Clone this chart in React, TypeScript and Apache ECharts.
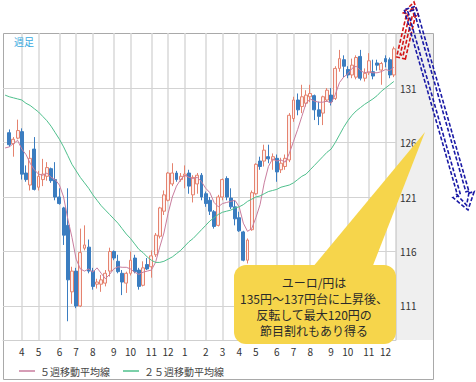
import React, { useEffect, useRef } from "react";
import * as echarts from "echarts";

// Weekly EUR/JPY candles (week starting Monday); first week is empty in the chart
const categories = [
  "2016/03/07","2016/03/14","2016/03/21","2016/03/28","2016/04/04","2016/04/11","2016/04/18","2016/04/25",
  "2016/05/02","2016/05/09","2016/05/16","2016/05/23","2016/05/30","2016/06/06","2016/06/13","2016/06/20",
  "2016/06/27","2016/07/04","2016/07/11","2016/07/18","2016/07/25","2016/08/01","2016/08/08","2016/08/15",
  "2016/08/22","2016/08/29","2016/09/05","2016/09/12","2016/09/19","2016/09/26","2016/10/03","2016/10/10",
  "2016/10/17","2016/10/24","2016/10/31","2016/11/07","2016/11/14","2016/11/21","2016/11/28","2016/12/05",
  "2016/12/12","2016/12/19","2016/12/26","2017/01/02","2017/01/09","2017/01/16","2017/01/23","2017/01/30",
  "2017/02/06","2017/02/13","2017/02/20","2017/02/27","2017/03/06","2017/03/13","2017/03/20","2017/03/27",
  "2017/04/03","2017/04/10","2017/04/17","2017/04/24","2017/05/01","2017/05/08","2017/05/15","2017/05/22",
  "2017/05/29","2017/06/05","2017/06/12","2017/06/19","2017/06/26","2017/07/03","2017/07/10","2017/07/17",
  "2017/07/24","2017/07/31","2017/08/07","2017/08/14","2017/08/21","2017/08/28","2017/09/04","2017/09/11",
  "2017/09/18","2017/09/25","2017/10/02","2017/10/09","2017/10/16","2017/10/23","2017/10/30","2017/11/06",
  "2017/11/13","2017/11/20","2017/11/27","2017/12/04","2017/12/11","2017/12/18"
];

const openP = [
  null, 126.9, 125.9, 126.4, 127.0, 123.2, 122.1, 125.4, 121.9, 122.6,
  122.9, 123.6, 122.6, 121.0, 120.0, 118.4, 112.3, 114.2, 111.0, 116.3,
  116.4, 114.2, 113.0, 113.0, 113.1, 114.2, 116.0, 115.1, 114.0, 113.1,
  114.0, 115.4, 114.3, 112.9, 114.8, 114.6, 115.7, 117.4, 119.7, 120.7,
  122.2, 123.2, 122.6, 122.95, 123.2, 121.2, 122.2, 123.0, 121.3, 120.7,
  119.65, 118.4, 121.0, 122.7, 120.9, 120.1, 119.1, 117.8, 115.2, 118.0,
  121.3, 124.3, 124.3, 124.7, 124.4, 124.55, 123.5, 123.8, 124.4, 128.2,
  129.9, 129.3, 129.6, 130.2, 130.3, 129.0, 128.7, 129.9, 130.35, 130.05,
  132.8, 133.6, 132.7, 132.2, 132.0, 133.9, 131.9, 132.4, 132.5, 133.3,
  132.65, 133.7, 133.6, 132.2
];
const closeP = [
  null, 125.8, 126.3, 127.1, 123.1, 122.6, 124.55, 121.7, 122.9, 123.1,
  123.7, 122.5, 121.0, 120.4, 117.5, 113.4, 114.2, 111.0, 115.9, 116.6,
  114.2, 112.8, 113.2, 113.4, 114.0, 116.0, 115.4, 114.15, 113.2, 114.0,
  115.2, 114.15, 112.8, 114.5, 114.4, 115.6, 117.5, 120.0, 121.2, 123.2,
  123.2, 122.6, 122.9, 123.1, 122.0, 122.8, 123.0, 121.0, 120.4, 119.7,
  118.3, 121.0, 122.6, 121.0, 120.1, 119.0, 117.9, 115.2, 117.05, 121.4,
  124.0, 123.8, 125.3, 124.5, 124.7, 123.3, 124.1, 124.55, 128.5, 129.9,
  129.0, 130.2, 130.35, 130.5, 129.0, 128.4, 130.2, 130.8, 129.75, 132.8,
  133.7, 133.0, 132.2, 133.1, 133.8, 131.9, 132.35, 133.5, 132.1, 133.1,
  133.25, 133.4, 132.2, 134.6
];
const lowP = [
  null, 125.6, 124.7, 126.3, 122.6, 122.4, 121.6, 121.6, 121.6, 122.0,
  122.5, 122.3, 120.7, 120.3, 116.6, 109.6, 111.2, 110.8, 110.9, 116.1,
  114.0, 112.5, 112.6, 112.3, 112.8, 113.7, 115.2, 114.0, 112.0, 112.2,
  113.8, 114.0, 112.5, 112.8, 114.3, 113.6, 115.5, 117.2, 119.35, 120.6,
  122.0, 122.4, 122.4, 121.8, 121.3, 120.5, 121.3, 120.7, 120.1, 119.35,
  118.1, 118.3, 120.7, 120.7, 119.9, 118.4, 117.8, 115.1, 114.9, 117.9,
  121.2, 123.5, 123.8, 124.1, 123.5, 122.4, 123.2, 123.5, 124.2, 127.9,
  128.5, 128.7, 129.3, 129.7, 128.06, 127.6, 127.6, 129.75, 129.4, 129.9,
  132.5, 132.0, 131.9, 131.9, 131.8, 131.7, 131.6, 132.2, 131.8, 132.6,
  131.3, 132.9, 131.9, 132.0
];
const highP = [
  null, 127.2, 126.5, 128.1, 127.3, 123.9, 125.3, 126.5, 123.4, 124.5,
  124.2, 123.7, 124.2, 121.8, 120.1, 121.8, 114.6, 114.5, 118.1, 118.4,
  117.1, 114.5, 113.5, 113.85, 114.3, 116.35, 116.1, 115.7, 114.3, 114.15,
  116.0, 115.7, 114.5, 115.1, 115.4, 116.1, 117.7, 120.1, 121.6, 123.3,
  124.1, 123.4, 123.2, 123.9, 123.5, 123.0, 123.2, 123.2, 121.5, 121.0,
  119.8, 121.2, 122.7, 122.9, 121.8, 120.7, 119.65, 117.9, 117.2, 121.6,
  124.1, 124.7, 125.8, 125.8, 125.0, 124.9, 124.6, 124.9, 128.7, 130.2,
  130.5, 131.3, 130.8, 131.3, 130.4, 129.75, 130.3, 131.0, 131.0, 133.0,
  134.5, 134.0, 133.0, 133.7, 134.0, 134.5, 132.8, 134.2, 133.6, 133.6,
  133.4, 134.0, 133.8, 134.8
];
const ma5 = [
  125.5, 125.6, 125.9, 126.2, 125.4, 124.9, 124.1, 123.5, 123.1, 123.0,
  123.2, 122.8, 122.6, 122.1, 121.0, 119.0, 117.3, 115.3, 114.4, 114.2,
  114.4, 114.1, 114.5, 114.0, 113.5, 113.9, 114.4, 114.6, 114.55, 114.55,
  114.4, 114.1, 113.9, 114.1, 114.2, 114.3, 115.0, 116.4, 117.7, 119.5,
  121.0, 122.0, 122.6, 123.0, 122.8, 122.7, 122.8, 122.4, 121.8, 121.4,
  120.5, 120.1, 120.4, 120.5, 120.6, 120.7, 120.1, 118.6, 117.85, 118.1,
  119.1, 120.3, 122.3, 123.8, 124.5, 124.3, 124.4, 124.2, 125.0, 126.1,
  127.2, 128.4, 129.6, 130.0, 129.8, 129.7, 129.7, 129.8, 129.6, 130.4,
  131.5, 132.0, 132.3, 132.8, 133.0, 132.6, 132.4, 132.5, 132.4, 132.4,
  132.5, 132.7, 132.6, 132.9
];
const ma25 = [
  130.35, 130.2, 130.1, 130.0, 129.9, 129.6, 129.4, 129.1, 128.8, 128.4,
  128.0, 127.5, 126.9, 126.3, 125.6, 124.8, 124.0, 123.4, 122.8, 122.3,
  121.8, 121.2, 120.7, 120.2, 119.8, 119.4, 119.0, 118.6, 118.1, 117.6,
  117.2, 116.7, 116.2, 115.9, 115.5, 115.2, 115.0, 115.0, 115.1, 115.3,
  115.5, 115.8, 116.1, 116.5, 116.9, 117.2, 117.6, 118.0, 118.4, 118.8,
  119.1, 119.4, 119.6, 119.7, 119.8, 120.0, 120.1, 120.3, 120.6, 120.8,
  121.0, 121.1, 121.3, 121.5, 121.6, 121.7, 121.9, 122.0, 122.1, 122.3,
  122.6, 122.9, 123.1, 123.5, 123.9, 124.3, 124.7, 125.1, 125.4, 126.0,
  126.7, 127.4, 128.0, 128.5, 128.9, 129.2, 129.5, 129.75, 130.0, 130.3,
  130.7, 131.0, 131.3, 131.6
];

const monthTickIndex = [4, 8, 13, 17, 21, 26, 30, 35, 39, 43, 48, 52, 56, 60, 65, 69, 73, 78, 82, 87, 91];
const monthTickLabels = ["4","5","6","7","8","9","10","11","12","1","2","3","4","5","6","7","8","9","10","11","12"];
const yTicks = [111, 116, 121, 126, 131];

const calloutLines = ["ユーロ/円は", "135円～137円台に上昇後、", "反転して最大120円の", "節目割れもあり得る"];
const legendNames = ["５週移動平均線", "２５週移動平均線"];

const FONT = "'Noto Sans CJK JP', 'Noto Sans', sans-serif";

function arrowPoints(sx: number, sy: number, ex: number, ey: number, w: number, hw: number, hl: number) {
  const dx = ex - sx, dy = ey - sy;
  const len = Math.hypot(dx, dy);
  const ux = dx / len, uy = dy / len;
  const nx = -uy, ny = ux;
  const bx = ex - ux * hl, by = ey - uy * hl;
  return [
    [sx + nx * w, sy + ny * w],
    [bx + nx * w, by + ny * w],
    [bx + nx * hw, by + ny * hw],
    [ex, ey],
    [bx - nx * hw, by - ny * hw],
    [bx - nx * w, by - ny * w],
    [sx - nx * w, sy - ny * w],
  ];
}

function doubleArrow(sx: number, sy: number, ex: number, ey: number, w: number, hw: number, hl: number, color: string) {
  const dx = ex - sx, dy = ey - sy;
  const len = Math.hypot(dx, dy);
  const ux = dx / len, uy = dy / len;
  const outer = arrowPoints(sx, sy, ex, ey, w, hw, hl);
  const inner = arrowPoints(sx + ux * 3, sy + uy * 3, ex - ux * 5, ey - uy * 5, w - 3, hw - 4.5, hl - 3);
  const style = { fill: "none", stroke: color, lineWidth: 1.6, lineDash: [4, 2] };
  return [
    { type: "polygon", z: 120, shape: { points: outer }, style },
    { type: "polygon", z: 120, shape: { points: inner }, style },
  ];
}

export default function App() {
  const ref = useRef<HTMLDivElement>(null);
  useEffect(() => {
    document.body.style.margin = "0";
    const chart = echarts.init(ref.current!, null, { renderer: "svg" });
    const candleData = categories.map((_, i) =>
      openP[i] == null ? "-" : [openP[i], closeP[i], lowP[i], highP[i]]
    );
    const tickMap: Record<number, string> = {};
    monthTickIndex.forEach((idx, k) => (tickMap[idx] = monthTickLabels[k]));
    const gridLineData: any[] = [
      ...monthTickIndex.map((idx) => ({ xAxis: categories[idx], lineStyle: { color: "#d9d9d9", width: 1.5, type: "solid" } })),
      ...yTicks.map((v) => ({ yAxis: v, lineStyle: { color: "#d3d3d3", width: 1, type: "solid" } })),
    ];

    const option: any = {
      animation: false,
      textStyle: { fontFamily: FONT },
      grid: { left: 3, top: 33, width: 392.9, height: 307, containLabel: false },
      legend: {
        data: legendNames,
        left: 14,
        top: 361,
        icon: "rect",
        itemWidth: 16,
        itemHeight: 1.5,
        itemGap: 13,
        textStyle: { fontSize: 10, color: "#444", fontFamily: FONT },
      },
      xAxis: {
        type: "category",
        data: categories,
        boundaryGap: true,
        axisLine: { show: true, lineStyle: { color: "#cfcfcf" } },
        axisTick: { show: false },
        splitLine: { show: false },
        axisLabel: {
          interval: (idx: number) => tickMap[idx] !== undefined,
          formatter: (_v: string, idx: number) => tickMap[idx] ?? "",
          color: "#333",
          fontSize: 10,
          margin: 6,
          fontFamily: FONT,
        },
      },
      yAxis: {
        type: "value",
        position: "right",
        min: 107.88,
        max: 136.05,
        scale: true,
        axisLine: { show: false },
        axisTick: { show: false },
        splitLine: { show: false },
        axisLabel: { customValues: yTicks, color: "#333", fontSize: 10, margin: 4, fontFamily: FONT },
      },
      series: [
        {
          type: "candlestick",
          name: "週足",
          data: candleData,
          barWidth: 3.4,
          z: 2,
          itemStyle: {
            color: "#fdf1ef",
            color0: "#3b7dc0",
            borderColor: "#e5836f",
            borderColor0: "#3b7dc0",
            borderWidth: 1,
          },
          markLine: {
            silent: true,
            symbol: "none",
            z: 1,
            label: { show: false },
            data: gridLineData,
          },
        },
        {
          type: "line",
          name: legendNames[0],
          data: ma5,
          symbol: "none",
          z: 3,
          color: "#c97d9e",
          lineStyle: { color: "#c97d9e", width: 1 },
        },
        {
          type: "line",
          name: legendNames[1],
          data: ma25,
          symbol: "none",
          z: 3,
          color: "#4fc08d",
          lineStyle: { color: "#4fc08d", width: 1 },
        },
      ],
      graphic: [
        { type: "rect", z: -10, shape: { x: 396, y: 33, width: 37, height: 307 }, style: { fill: "#efefef" } },
        { type: "rect", z: -5, shape: { x: 3.5, y: 33.5, width: 430, height: 346 }, style: { fill: "none", stroke: "#a9a9a9", lineWidth: 1 } },
        { type: "line", z: -5, shape: { x1: 396, y1: 33, x2: 396, y2: 340 }, style: { stroke: "#bdbdbd", lineWidth: 1 } },
        { type: "text", z: 10, x: 14, y: 41, style: { text: "週足", fill: "#3aa9e0", fontSize: 10, fontFamily: FONT, textVerticalAlign: "middle" } },
        { type: "polygon", z: 100, shape: { points: [[312, 268], [372, 268], [425, 132]] }, style: { fill: "#f6d54b" } },
        { type: "rect", z: 100, shape: { x: 234, y: 265, width: 162, height: 79, r: 12 }, style: { fill: "#f6d54b" } },
        ...calloutLines.map((t, k) => ({
          type: "text",
          z: 101,
          x: 314,
          y: 282 + k * 16.3,
          style: { text: t, fill: "#2a2a2a", fontSize: 12, fontFamily: FONT, textAlign: "center", textVerticalAlign: "middle" },
        })),
        ...doubleArrow(401, 58, 414, 2, 4.5, 8, 13, "#d41616"),
        ...doubleArrow(410, 8, 468, 210, 6, 11, 16, "#1a1aa6"),
      ],
    };
    chart.setOption(option);
    return () => chart.dispose();
  }, []);
  return <div ref={ref} style={{ width: 476, height: 382 }} />;
}
